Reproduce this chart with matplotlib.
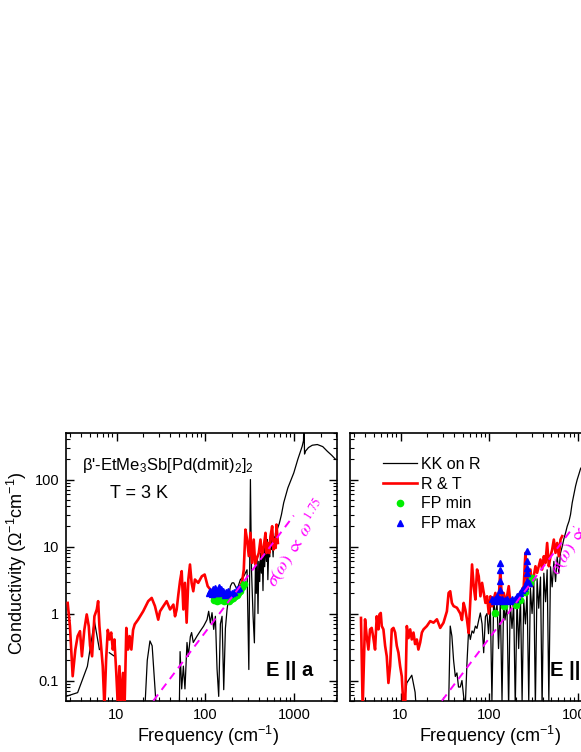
import numpy as np
import matplotlib
matplotlib.use("Agg")
import matplotlib.pyplot as plt
from matplotlib.lines import Line2D
from matplotlib.ticker import LogLocator, NullFormatter

plt.rcParams["font.family"] = ["Liberation Sans", "DejaVu Sans"]
plt.rcParams["mathtext.fontset"] = "custom"
plt.rcParams["mathtext.rm"] = "Liberation Sans"
plt.rcParams["mathtext.it"] = "Liberation Sans:italic"
plt.rcParams["mathtext.bf"] = "Liberation Sans:bold"

nan = np.nan

# %% E || a : KK on R (black)
kk_a_x = [2.7, 3.65, 4.7, 5.64, 6.42, nan, 8.3, 9.5, nan,
          20.9, 22.2, 23.8, 25.2, 27.1, 28.0, nan,
          51.0, 52.0, 54.2, 56.6, 59.0, 62.2, 64.4, 67.8, 70.1, 73.2, 80.6, 87.9, 95.8,
          104.5, 109.1, 114, 119, 124.3, 129.8, 135.5, 141.5, 147.8, 154.3, 161.2, 168.3,
          175.7, 184, 191.6, 200.1, 209, 218, 228, 248, 271, 295, 309, 322, 331, 345, 357,
          367, 375, 383, 392, 400, 410, 418, 428, 436, 446, 456, 466, 476, 488, 497, 506,
          519, 530, 542, 554, 566, 580, 591, 601, 617, 633, 645, 680, 720, 763, 850, 992,
          1100, 1233, 1275, 1290, 1310, 1340, 1450, 1600, 1826, 2100, 2365, 2650, 2930]
kk_a_y = [0.058, 0.066, 0.163, 0.77, 0.29, nan, 0.26, 0.23, nan,
          0.04, 0.2, 0.39, 0.33, 0.078, 0.04, nan,
          0.04, 0.27, 0.075, 0.164, 0.075, 0.37, 0.23, 0.45, 0.52, 0.37, 0.46, 0.55, 0.65,
          0.81, 1.08, 0.72, 1.03, 0.58, 0.91, 0.15, 0.058, 0.7, 0.91, 0.073, 0.6,
          1.15, 1.8, 2.56, 2.87, 2.87, 2.56, 2.28, 3.2, 3.6, 4.5, 0.146, 100, 4.5, 0.91, 0.365,
          5.7, 2.0, 7.2, 1.0, 6.0, 3.0, 8.0, 4.0, 9.0, 2.2, 10.1, 5.0, 11.3, 6.0, 12.7, 3.2,
          10.0, 7.0, 14.3, 9.0, 12.7, 7.0, 14.0, 10.0, 16.0, 13.0, 18.0, 22.0, 30, 45, 75, 126,
          200, 314, 380, 800, 240, 264, 300, 325, 333, 310, 264, 230, 200]

# %% E || a : R & T (red)
rt_a_x = [2.82, 2.99, 3.21, 3.44, 3.65, 3.88, 4.08, 4.34, 4.62, 4.87, 5.04, 5.31, 5.64,
          6.0, 6.21, 6.42, 6.70, 7.0, 7.31, 7.64, 7.98, 8.33, 8.71, 9.09, 9.47, 9.94,
          10.37, 10.8, 11.27, 11.84, 12.32, 12.9, 13.47, 14.04, 14.7, 15.37, 16.04, 17.48,
          19.97, 22.76, 24.9, 27.1, 29.5, 30.9, 33.7, 36.7, 40.1, 43.7, 45.6, 47.6, 49.7,
          51.9, 54.2, 56.6, 59.0, 61.6, 64.4, 67.2, 70.1, 73.2, 76.4, 83.2, 91.4, 98.3,
          106.3, 114, 122.2, 129.8, 135.5, 141.5, 147.8, 154.3, 161.2, 168.3, 175.7, 185,
          195, 205, 215, 225, 235, 248, 260, 271, 283, 295, 309, 322, 336, 351, 364, 377,
          400, 418, 436, 456, 476, 490, 506, 524, 542, 566, 585, 601, 620, 633, 656]
rt_a_y = [1.44, 0.65, 0.116, 0.29, 0.46, 0.545, 0.23, 0.57, 0.97, 0.65, 0.33, 0.23, 0.91,
          1.15, 1.53, 0.65, 0.33, 0.164, 0.04, 0.206, 0.57, 0.41, 0.52, 0.29, 0.41, 0.13,
          0.04, 0.164, 0.04, 0.13, 0.04, 0.61, 0.29, 0.46, 0.29, 0.57, 0.69, 0.81,
          1.08, 1.53, 1.71, 1.29, 0.81, 1.08, 1.29, 1.53, 1.15, 1.36, 0.91, 1.15, 1.92,
          3.04, 4.29, 1.15, 2.87, 0.73, 3.22, 5.39, 2.87, 2.15, 3.22, 2.87, 3.6, 3.82,
          2.56, 2.28, 1.61, 1.81, 2.03, 1.7, 2.0, 1.6, 1.9, 1.7, 1.9, 1.6,
          2.0, 1.8, 2.1, 2.0, 2.3, 2.6, 3.0, 4.5, 17.9, 12.7, 7.2, 16, 5.7, 12.7, 5.5, 6.4,
          8.0, 12.7, 7.0, 10.1, 16, 8.0, 11.3, 8.0, 14.3, 20.1, 9.0, 12.7, 9.5, 21.3, 11.3]

# %% E || a : Fabry-Perot
fpmin_a_x = [124, 130, 136, 142, 148, 155, 162, 170, 178, 186, 195, 205, 215, 225, 235, 248, 260, 272]
fpmin_a_y = [1.6, 1.7, 1.55, 1.65, 1.6, 1.75, 1.55, 1.6, 1.7, 1.55, 1.65, 1.7, 1.8, 1.9, 2.0, 2.2, 2.5, 2.8]
fpmax_a_x = [110, 114, 118, 122, 126, 130, 134, 138, 142, 146, 150, 155, 160, 165, 170, 176,
             182, 190, 200, 212, 225, 240]
fpmax_a_y = [2.0, 2.2, 1.95, 2.3, 2.05, 2.4, 2.0, 2.2, 2.5, 2.0, 2.3, 2.1, 2.2, 1.9, 2.1, 2.0,
             2.2, 1.95, 2.0, 2.1, 2.3, 2.4]

# power law sigma ~ omega^1.75, end points
fit_a_x = [26, 990]
fit_a_y = [0.05, 29]

# %% E || b : KK on R (black)
kk_b_x = [10.8, 11.78, 13.4, 14.6, 15.0, nan,
          34.8, 36.3, 37.9, 39.6, 41.4, 43.2, 45.0, 47.1, 49.2, 51.4, 53.6,
          56.0, 58.5, 61.1, 63.9, 66.6, 69.7, 72.6, 76, 79.2, 82.9, 86.4, 90.4, 94.2, 98,
          102.7, 107, 112, 117, 122.2, 127, 133, 139, 145, 150, 158, 165, 172, 180, 188,
          196, 205, 214, 224, 234, 244, 255, 266, 278, 290, 303, 317, 330, 345, 360, 377,
          393, 411, 430, 448, 468, 489, 510, 533, 557, 581, 607, 633, 662, 691, 722, 753,
          790, 821, 858, 896, 936, 977, 1020, 1065, 1150]
kk_b_y = [0.04, 0.092, 0.12, 0.067, 0.04, nan,
          0.04, 0.65, 0.46, 0.2, 0.115, 0.13, 0.08, 0.08, 0.1, 0.058, 0.04,
          0.18, 0.58, 0.41, 0.55, 0.51, 0.65, 0.6, 0.8, 1.02, 0.7, 0.26, 0.9, 1.0, 0.5,
          1.3, 0.05, 1.6, 0.9, 1.4, 0.3, 1.5, 0.05, 1.6, 0.8, 1.3, 0.04, 1.5, 0.6, 1.4,
          0.04, 1.7, 0.3, 1.9, 0.05, 1.6, 0.7, 2.1, 0.05, 2.4, 1.0, 3.0, 0.04, 3.3, 1.2, 3.5,
          0.04, 4.0, 1.5, 4.5, 0.05, 5.0, 2.5, 6.0, 3.0, 7.0, 4.0, 8.0, 10, 13, 16, 20,
          24, 30, 45, 60, 80, 100, 120, 145, 170]

# %% E || b : R & T (red)
rt_b_x = [3.59, 3.75, 3.99, 4.16, 4.35, 4.54, 4.74, 4.95, 5.17, 5.40, 5.64, 5.79, 5.99,
          6.15, 6.42, 6.71, 7.0, 7.31, 7.64, 7.97, 8.33, 8.70, 9.08, 9.48, 9.90, 10.34,
          10.8, 11.28, 11.78, 12.3, 12.85, 13.4, 14.0, 14.6, 15.27, 15.9, 16.66, 17.4,
          18.16, 19.8, 21.6, 23.55, 25.7, 28.0, 30.5, 33.3, 34.8, 36.3, 37.9, 39.6, 43.2,
          47.1, 49.2, 51.4, 53.7, 56.1, 58.6, 61.2, 63.9, 66.7, 69.7, 72.8, 76, 79.4, 82.9,
          86.6, 90.4, 94.4, 98.6, 103, 107.2, 112, 117, 122.1, 127.5, 133.2, 139.1, 145.2,
          151.7, 158.3, 165.4, 172.7, 180.4, 188.3, 196.7, 205.4, 224, 244.2, 255, 261.8,
          266.3, 278, 290.4, 303.3, 316.7, 330.7, 345.4, 376.6, 393.3, 410.7, 429, 447.9,
          467.8, 488.5, 510.2, 532.6, 556.2, 580.8, 606.6, 633.4, 661.5]
rt_b_y = [0.86, 0.04, 0.82, 0.46, 0.29, 0.58, 0.61, 0.43, 0.29, 0.91, 0.58, 0.97, 1.02,
          0.65, 0.58, 0.33, 0.23, 0.092, 0.164, 0.58, 0.61, 0.52, 0.33, 0.26, 0.164, 0.115,
          0.04, 0.04, 0.65, 0.43, 0.58, 0.41, 0.52, 0.35, 0.41, 0.29, 0.37, 0.52,
          0.58, 0.65, 0.77, 0.73, 0.82, 0.61, 0.73, 1.08, 2.03, 2.15, 1.44, 1.29, 1.22,
          1.0, 0.8, 1.44, 1.14, 0.8, 0.51, 1.62, 5.4, 2.56, 1.62, 4.54, 3.6, 1.81, 2.87,
          2.03, 1.44, 1.81, 1.0, 1.81, 1.28, 1.62, 2.03, 1.44, 1.62, 4.54, 1.44, 2.03,
          1.53, 1.81, 2.56, 1.44, 1.62, 1.28, 1.62, 1.81, 2.03, 2.56, 8.04, 5.08,
          2.28, 3.22, 4.54, 2.56, 3.6, 5.08, 4.05, 6.4, 4.54, 7.16, 5.7, 11.3,
          5.08, 7.16, 9.0, 12.7, 8.04, 11.3, 7.16, 12.7, 14.3]

# %% E || b : Fabry-Perot
fpmin_b_x = [117, 148, 200, 224, 255, 285, 300]
fpmin_b_y = [1.02, 1.29, 1.36, 1.6, 2.1, 2.9, 3.4]
fpmax_b_x = [107, 112, 117, 122, 127.5, 133, 133, 133, 133, 133, 139, 145, 152, 158, 172, 180,
             196, 205, 224, 234, 244, 255, 266, 266, 266, 266, 266, 278]
fpmax_b_y = [1.62, 1.55, 1.62, 1.81, 1.53, 1.62, 2.28, 3.04, 4.54, 5.7, 1.62, 1.55, 1.6, 1.62,
             1.55, 1.62, 1.62, 1.81, 2.03, 2.28, 2.4, 2.56, 3.04, 4.05, 4.8, 6.04, 8.5, 2.9]

fit_b_x = [29.3, 896]
fit_b_y = [0.05, 20]

x_ticks = [10, 100, 1000]
x_labels = ["10", "100", "1000"]
y_ticks = [0.1, 1, 10, 100]
y_labels = ["0.1", "1", "10", "100"]

# %%
W, H = 581, 752
fig = plt.figure(figsize=(W / 100, H / 100), dpi=100)
ax_a = fig.add_axes([66 / W, 51.3 / H, 270.5 / W, 268 / H])
ax_b = fig.add_axes([350 / W, 51.3 / H, 270.5 / W, 268 / H])


def style_axes(ax, ylabels=True):
    ax.set_xscale("log")
    ax.set_yscale("log")
    ax.set_xlim(2.7, 3000)
    ax.set_ylim(0.05, 500)
    for axis in (ax.xaxis, ax.yaxis):
        axis.set_minor_locator(LogLocator(base=10, subs=np.arange(2, 10), numticks=20))
        axis.set_minor_formatter(NullFormatter())
    ax.set_xticks(x_ticks)
    ax.set_xticklabels(x_labels)
    ax.set_yticks(y_ticks)
    ax.set_yticklabels(y_labels if ylabels else [])
    ax.tick_params(which="both", direction="in", top=True, right=True, labelsize=10.5)
    ax.tick_params(which="major", length=6, width=1.0, pad=5)
    ax.tick_params(which="minor", length=3, width=0.8)
    for s in ax.spines.values():
        s.set_linewidth(1.2)


def draw_panel(ax, kx, ky, rx, ry, gx, gy, bx, by, fx, fy):
    ax.plot(kx, ky, color="black", lw=0.9, zorder=2)
    ax.plot(rx, ry, color="#ff0000", lw=1.9, zorder=3)
    ax.plot(gx, gy, ls="none", marker="o", ms=4.5, color="#00ee00", zorder=4)
    ax.plot(bx, by, ls="none", marker="^", ms=5, color="#0000ff", zorder=5)
    ax.plot(fx, fy, color="#ff00ff", lw=1.4, ls=(0, (4, 3)), zorder=6)


style_axes(ax_a)
style_axes(ax_b, ylabels=False)
draw_panel(ax_a, kk_a_x, kk_a_y, rt_a_x, rt_a_y, fpmin_a_x, fpmin_a_y,
           fpmax_a_x, fpmax_a_y, fit_a_x, fit_a_y)
draw_panel(ax_b, kk_b_x, kk_b_y, rt_b_x, rt_b_y, fpmin_b_x, fpmin_b_y,
           fpmax_b_x, fpmax_b_y, fit_b_x, fit_b_y)

law = r"$\sigma(\omega)\ \propto\ \omega^{\ 1.75}$"
ax_a.text(0.775, 0.42, law, transform=ax_a.transAxes, rotation=58, rotation_mode="anchor",
          ha="left", va="baseline", color="#ff00ff", fontsize=13, math_fontfamily="stix")
ax_b.text(0.772, 0.465, law, transform=ax_b.transAxes, rotation=58, rotation_mode="anchor",
          ha="left", va="baseline", color="#ff00ff", fontsize=13, math_fontfamily="stix")

ax_a.text(0.74, 0.092, "E || a", transform=ax_a.transAxes, fontsize=14.5,
          fontweight="bold", ha="left", va="baseline")
ax_b.text(0.74, 0.092, "E || b", transform=ax_b.transAxes, fontsize=14.5,
          fontweight="bold", ha="left", va="baseline")

ax_a.text(0.059, 0.86, "β'-EtMe$_3$Sb[Pd(dmit)$_2$]$_2$", transform=ax_a.transAxes,
          fontsize=12, ha="left", va="baseline")
ax_a.text(0.163, 0.755, "T = 3 K", transform=ax_a.transAxes, fontsize=13,
          ha="left", va="baseline")

handles = [
    Line2D([], [], color="black", lw=0.9),
    Line2D([], [], color="#ff0000", lw=1.9),
    Line2D([], [], ls="none", marker="o", ms=4.5, color="#00ee00"),
    Line2D([], [], ls="none", marker="^", ms=5, color="#0000ff"),
]
ax_b.legend(handles, ["KK on R", "R & T", "FP min", "FP max"], loc="upper left",
            bbox_to_anchor=(0.122, 0.91), frameon=False, fontsize=11.5,
            handlelength=2.1, handletextpad=0.25, labelspacing=0.3,
            borderpad=0, borderaxespad=0)

fig.text(17 / W, 1 - 563 / H, r"Conductivity ($\Omega^{-1}$cm$^{-1}$)",
         rotation=90, ha="center", va="center", fontsize=13)
fig.text(207.5 / W, 1 - 742 / H, "Frequency (cm$^{-1}$)", ha="center", va="baseline",
         fontsize=13)
fig.text(490 / W, 1 - 742 / H, "Frequency (cm$^{-1}$)", ha="center", va="baseline",
         fontsize=13)

fig.savefig("out.png", dpi=100)
